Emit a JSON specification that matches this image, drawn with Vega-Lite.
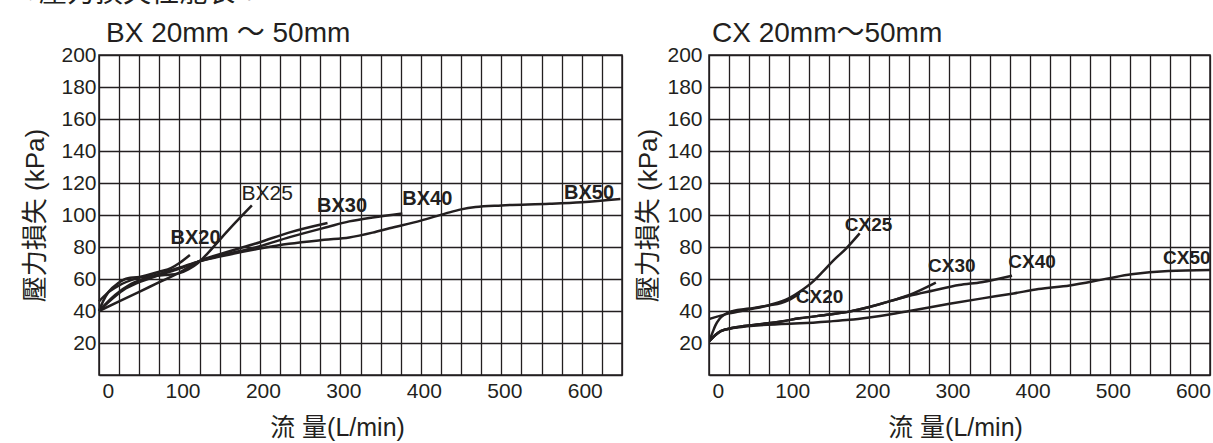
{
  "$schema": "https://vega.github.io/schema/vega-lite/v6.json",
  "background": "white",
  "padding": {"left": 22, "top": -20, "right": 0, "bottom": 0},
  "title": {
    "text": "●壓力損失性能表：",
    "anchor": "start",
    "frame": "bounds",
    "fontSize": 28,
    "fontWeight": "normal",
    "color": "#231f20",
    "offset": 11
  },
  "config": {
    "font": "Liberation Sans, Noto Sans CJK TC, sans-serif",
    "view": {"stroke": "#231f20", "strokeWidth": 1.5},
    "axis": {
      "grid": true,
      "gridColor": "#231f20",
      "gridWidth": 1.3,
      "gridOpacity": 1,
      "domain": false,
      "ticks": false,
      "labelColor": "#231f20",
      "labelFont": "Liberation Sans",
      "labelFontSize": 21,
      "labelOverlap": false,
      "titleColor": "#231f20",
      "titleFont": "Liberation Sans, Noto Sans CJK TC",
      "titleFontWeight": "normal",
      "titleFontSize": 25
    },
    "title": {"color": "#231f20", "fontWeight": "normal"}
  },
  "datasets": {
    "bx": [
      {"series": "BX20", "flow": 0, "loss": 46},
      {"series": "BX20", "flow": 10, "loss": 51},
      {"series": "BX20", "flow": 25, "loss": 56},
      {"series": "BX20", "flow": 50, "loss": 61},
      {"series": "BX20", "flow": 75, "loss": 64.5},
      {"series": "BX20", "flow": 90, "loss": 67},
      {"series": "BX20", "flow": 100, "loss": 70},
      {"series": "BX20", "flow": 113, "loss": 75},
      {"series": "BX25", "flow": 0, "loss": 40},
      {"series": "BX25", "flow": 5, "loss": 46},
      {"series": "BX25", "flow": 12, "loss": 52},
      {"series": "BX25", "flow": 24, "loss": 57.5},
      {"series": "BX25", "flow": 36, "loss": 60.5},
      {"series": "BX25", "flow": 60, "loss": 61.5},
      {"series": "BX25", "flow": 82, "loss": 62.5},
      {"series": "BX25", "flow": 99, "loss": 63.5},
      {"series": "BX25", "flow": 111, "loss": 66},
      {"series": "BX25", "flow": 123, "loss": 70},
      {"series": "BX25", "flow": 135, "loss": 76},
      {"series": "BX25", "flow": 150, "loss": 84.5},
      {"series": "BX25", "flow": 170, "loss": 95.5},
      {"series": "BX25", "flow": 190, "loss": 106},
      {"series": "BX30", "flow": 0, "loss": 40},
      {"series": "BX30", "flow": 25, "loss": 46},
      {"series": "BX30", "flow": 50, "loss": 52},
      {"series": "BX30", "flow": 75, "loss": 58},
      {"series": "BX30", "flow": 100, "loss": 64},
      {"series": "BX30", "flow": 124, "loss": 71},
      {"series": "BX30", "flow": 150, "loss": 75.5},
      {"series": "BX30", "flow": 200, "loss": 83},
      {"series": "BX30", "flow": 236, "loss": 89},
      {"series": "BX30", "flow": 284, "loss": 95},
      {"series": "BX40", "flow": 0, "loss": 40},
      {"series": "BX40", "flow": 15, "loss": 47},
      {"series": "BX40", "flow": 30, "loss": 53},
      {"series": "BX40", "flow": 50, "loss": 58},
      {"series": "BX40", "flow": 75, "loss": 62.5},
      {"series": "BX40", "flow": 100, "loss": 66.5},
      {"series": "BX40", "flow": 124, "loss": 71},
      {"series": "BX40", "flow": 150, "loss": 74.5},
      {"series": "BX40", "flow": 200, "loss": 80.5},
      {"series": "BX40", "flow": 236, "loss": 86},
      {"series": "BX40", "flow": 284, "loss": 92.5},
      {"series": "BX40", "flow": 311, "loss": 96},
      {"series": "BX40", "flow": 340, "loss": 98.5},
      {"series": "BX40", "flow": 377, "loss": 101},
      {"series": "BX50", "flow": 0, "loss": 40},
      {"series": "BX50", "flow": 20, "loss": 50},
      {"series": "BX50", "flow": 40, "loss": 57},
      {"series": "BX50", "flow": 60, "loss": 61},
      {"series": "BX50", "flow": 80, "loss": 64},
      {"series": "BX50", "flow": 100, "loss": 67},
      {"series": "BX50", "flow": 124, "loss": 71},
      {"series": "BX50", "flow": 150, "loss": 74},
      {"series": "BX50", "flow": 200, "loss": 79},
      {"series": "BX50", "flow": 236, "loss": 82},
      {"series": "BX50", "flow": 280, "loss": 84.5},
      {"series": "BX50", "flow": 311, "loss": 86},
      {"series": "BX50", "flow": 340, "loss": 89},
      {"series": "BX50", "flow": 361, "loss": 91.7},
      {"series": "BX50", "flow": 400, "loss": 96.5},
      {"series": "BX50", "flow": 431, "loss": 101},
      {"series": "BX50", "flow": 450, "loss": 103.5},
      {"series": "BX50", "flow": 468, "loss": 105},
      {"series": "BX50", "flow": 500, "loss": 106},
      {"series": "BX50", "flow": 560, "loss": 107},
      {"series": "BX50", "flow": 600, "loss": 108},
      {"series": "BX50", "flow": 648, "loss": 110}
    ],
    "bxLabels": [
      {"series": "BX20", "flow": 120, "loss": 85.6},
      {"series": "BX25", "flow": 209, "loss": 113},
      {"series": "BX30", "flow": 302, "loss": 105.6},
      {"series": "BX40", "flow": 408, "loss": 110},
      {"series": "BX50", "flow": 609, "loss": 114}
    ],
    "cx": [
      {"series": "CX20", "flow": 0, "loss": 21},
      {"series": "CX20", "flow": 4, "loss": 26},
      {"series": "CX20", "flow": 8, "loss": 31},
      {"series": "CX20", "flow": 13, "loss": 35},
      {"series": "CX20", "flow": 20, "loss": 38},
      {"series": "CX20", "flow": 30, "loss": 40},
      {"series": "CX20", "flow": 50, "loss": 41.5},
      {"series": "CX20", "flow": 75, "loss": 43.5},
      {"series": "CX20", "flow": 90, "loss": 45},
      {"series": "CX20", "flow": 100, "loss": 47},
      {"series": "CX20", "flow": 113, "loss": 51},
      {"series": "CX25", "flow": 0, "loss": 35},
      {"series": "CX25", "flow": 25, "loss": 38.5},
      {"series": "CX25", "flow": 50, "loss": 41},
      {"series": "CX25", "flow": 75, "loss": 43.7},
      {"series": "CX25", "flow": 100, "loss": 48},
      {"series": "CX25", "flow": 113, "loss": 52},
      {"series": "CX25", "flow": 130, "loss": 58.5},
      {"series": "CX25", "flow": 142, "loss": 64.6},
      {"series": "CX25", "flow": 155, "loss": 71.5},
      {"series": "CX25", "flow": 171, "loss": 79},
      {"series": "CX25", "flow": 188, "loss": 88.5},
      {"series": "CX30", "flow": 0, "loss": 21},
      {"series": "CX30", "flow": 8, "loss": 25},
      {"series": "CX30", "flow": 15, "loss": 27.5},
      {"series": "CX30", "flow": 30, "loss": 29.5},
      {"series": "CX30", "flow": 60, "loss": 31.5},
      {"series": "CX30", "flow": 90, "loss": 33.5},
      {"series": "CX30", "flow": 113, "loss": 35.4},
      {"series": "CX30", "flow": 150, "loss": 37.8},
      {"series": "CX30", "flow": 175, "loss": 39.6},
      {"series": "CX30", "flow": 200, "loss": 42.5},
      {"series": "CX30", "flow": 225, "loss": 46},
      {"series": "CX30", "flow": 250, "loss": 50},
      {"series": "CX30", "flow": 283, "loss": 57.7},
      {"series": "CX40", "flow": 0, "loss": 21},
      {"series": "CX40", "flow": 8, "loss": 25},
      {"series": "CX40", "flow": 15, "loss": 27.5},
      {"series": "CX40", "flow": 30, "loss": 29.5},
      {"series": "CX40", "flow": 60, "loss": 31.5},
      {"series": "CX40", "flow": 90, "loss": 33.5},
      {"series": "CX40", "flow": 113, "loss": 35.4},
      {"series": "CX40", "flow": 150, "loss": 37.8},
      {"series": "CX40", "flow": 175, "loss": 39.6},
      {"series": "CX40", "flow": 200, "loss": 42.5},
      {"series": "CX40", "flow": 225, "loss": 46},
      {"series": "CX40", "flow": 250, "loss": 49.5},
      {"series": "CX40", "flow": 280, "loss": 52.8},
      {"series": "CX40", "flow": 312, "loss": 56.2},
      {"series": "CX40", "flow": 340, "loss": 58},
      {"series": "CX40", "flow": 378, "loss": 62},
      {"series": "CX50", "flow": 0, "loss": 21},
      {"series": "CX50", "flow": 8, "loss": 25},
      {"series": "CX50", "flow": 15, "loss": 27.5},
      {"series": "CX50", "flow": 30, "loss": 29.3},
      {"series": "CX50", "flow": 60, "loss": 31},
      {"series": "CX50", "flow": 90, "loss": 31.8},
      {"series": "CX50", "flow": 113, "loss": 32.3},
      {"series": "CX50", "flow": 150, "loss": 33.5},
      {"series": "CX50", "flow": 175, "loss": 34.5},
      {"series": "CX50", "flow": 200, "loss": 36},
      {"series": "CX50", "flow": 225, "loss": 37.8},
      {"series": "CX50", "flow": 250, "loss": 40},
      {"series": "CX50", "flow": 300, "loss": 44.5},
      {"series": "CX50", "flow": 341, "loss": 47.9},
      {"series": "CX50", "flow": 380, "loss": 51},
      {"series": "CX50", "flow": 411, "loss": 53.7},
      {"series": "CX50", "flow": 450, "loss": 56},
      {"series": "CX50", "flow": 498, "loss": 60.4},
      {"series": "CX50", "flow": 527, "loss": 62.9},
      {"series": "CX50", "flow": 573, "loss": 65},
      {"series": "CX50", "flow": 625, "loss": 65.6}
    ],
    "cxLabels": [
      {"series": "CX20", "flow": 138, "loss": 49},
      {"series": "CX25", "flow": 199, "loss": 93.8},
      {"series": "CX30", "flow": 303, "loss": 68.3},
      {"series": "CX40", "flow": 403, "loss": 70.8},
      {"series": "CX50", "flow": 596, "loss": 73.3}
    ]
  },
  "spacing": 8,
  "hconcat": [
    {
      "width": 523,
      "height": 320,
      "title": {"text": "BX 20mm ～ 50mm", "anchor": "start", "frame": "group", "fontSize": 28, "offset": -4, "dx": 7},
      "encoding": {
        "x": {
          "field": "flow",
          "type": "quantitative",
          "scale": {"domain": [0, 650], "nice": false},
          "axis": {
            "values": [0, 25, 50, 75, 100, 125, 150, 175, 200, 225, 250, 275, 300, 325, 350, 375, 400, 425, 450, 475, 500, 525, 550, 575, 600, 625, 650],
            "labelExpr": "datum.value % 100 == 0 ? datum.label : ''",
            "labelPadding": 5,
            "labelOffset": 3,
            "title": "流 量(L/min)",
            "titleX": 238,
            "titlePadding": 14
          }
        },
        "y": {
          "field": "loss",
          "type": "quantitative",
          "scale": {"domain": [0, 200], "nice": false},
          "axis": {
            "values": [0, 20, 40, 60, 80, 100, 120, 140, 160, 180, 200],
            "labelExpr": "datum.value == 0 ? '' : datum.label",
            "labelPadding": 3,
            "title": "壓力損失 (kPa)",
            "titleFontSize": 26,
            "titlePadding": 12
          }
        }
      },
      "layer": [
        {
          "data": {"name": "bx"},
          "mark": {"type": "line", "color": "#231f20", "strokeWidth": 2.5, "interpolate": "monotone"},
          "encoding": {"detail": {"field": "series", "type": "nominal"}}
        },
        {
          "data": {"name": "bxLabels"},
          "transform": [{"filter": "datum.series != 'BX25'"}],
          "mark": {"type": "text", "font": "Liberation Sans", "fontWeight": "bold", "fontSize": 20, "color": "#231f20", "align": "center", "baseline": "middle"},
          "encoding": {"text": {"field": "series", "type": "nominal"}}
        },
        {
          "data": {"name": "bxLabels"},
          "transform": [{"filter": "datum.series == 'BX25'"}],
          "mark": {"type": "text", "font": "Liberation Sans", "fontSize": 21, "color": "#231f20", "align": "center", "baseline": "middle"},
          "encoding": {"text": {"field": "series", "type": "nominal"}}
        }
      ]
    },
    {
      "width": 501,
      "height": 320,
      "title": {"text": "CX 20mm～50mm", "anchor": "start", "frame": "group", "fontSize": 28, "offset": -4, "dx": 3},
      "encoding": {
        "x": {
          "field": "flow",
          "type": "quantitative",
          "scale": {"domain": [0, 625], "nice": false},
          "axis": {
            "values": [0, 25, 50, 75, 100, 125, 150, 175, 200, 225, 250, 275, 300, 325, 350, 375, 400, 425, 450, 475, 500, 525, 550, 575, 600, 625],
            "labelExpr": "datum.value % 100 == 0 ? datum.label : ''",
            "labelPadding": 5,
            "labelOffset": 3,
            "title": "流 量(L/min)",
            "titleX": 246,
            "titlePadding": 14
          }
        },
        "y": {
          "field": "loss",
          "type": "quantitative",
          "scale": {"domain": [0, 200], "nice": false},
          "axis": {
            "values": [0, 20, 40, 60, 80, 100, 120, 140, 160, 180, 200],
            "labelExpr": "datum.value == 0 ? '' : datum.label",
            "labelPadding": 7,
            "title": "壓力損失 (kPa)",
            "titleFontSize": 26,
            "titlePadding": 5
          }
        }
      },
      "layer": [
        {
          "data": {"name": "cx"},
          "mark": {"type": "line", "color": "#231f20", "strokeWidth": 2.5, "interpolate": "monotone", "clip": true},
          "encoding": {"detail": {"field": "series", "type": "nominal"}}
        },
        {
          "data": {"name": "cxLabels"},
          "mark": {"type": "text", "font": "Liberation Sans", "fontWeight": "bold", "fontSize": 19, "color": "#231f20", "align": "center", "baseline": "middle"},
          "encoding": {"text": {"field": "series", "type": "nominal"}}
        }
      ]
    }
  ]
}
